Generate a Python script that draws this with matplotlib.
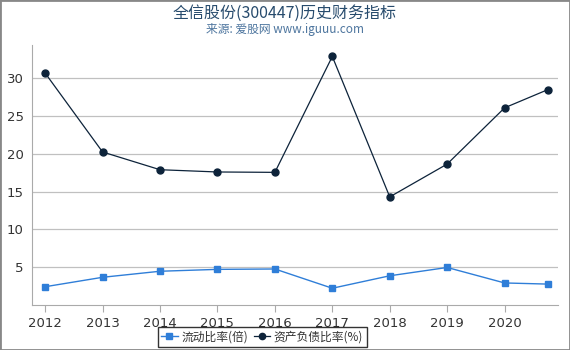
import matplotlib
matplotlib.use("Agg")
from matplotlib import pyplot as plt

plt.rcParams['font.family'] = ['DejaVu Sans', 'Noto Sans CJK SC']

years = [2012, 2013, 2014, 2015, 2016, 2017, 2018, 2019, 2020, 2020.75]
xticks = [2012, 2013, 2014, 2015, 2016, 2017, 2018, 2019, 2020]
current_ratio = [2.4, 3.65, 4.45, 4.7, 4.75, 2.2, 3.85, 4.95, 2.9, 2.75]
debt_ratio = [30.7, 20.25, 17.9, 17.6, 17.55, 32.9, 14.3, 18.65, 26.1, 28.5]

fig = plt.figure(figsize=(5.7, 3.5), dpi=100)
ax = fig.add_axes([0.056, 0.129, 0.923, 0.742])

ax.plot(years, current_ratio, color='#2f7ed8', lw=1, marker='s', ms=5,
        label='流动比率(倍)', zorder=3)
ax.plot(years, debt_ratio, color='#0d233a', lw=0.9, marker='o', ms=5,
        label='资产负债比率(%)', zorder=3)

ax.set_xlim(2011.77, 2020.93)
ax.set_ylim(0, 34.4)
ax.set_xticks(xticks)
ax.set_xticklabels([str(x) for x in xticks])
ax.set_yticks([5, 10, 15, 20, 25, 30])
ax.grid(axis='y', color='#c0c0c0', lw=0.9)
ax.set_axisbelow(True)
for s in ['top', 'right']:
    ax.spines[s].set_visible(False)
for s in ['left', 'bottom']:
    ax.spines[s].set_color('#aaaaaa')
ax.tick_params(axis='y', length=0, labelsize=9.5, labelcolor='#333333', pad=6)
ax.tick_params(axis='x', length=5, color='#aaaaaa', labelsize=9.5, labelcolor='#333333')

fig.text(0.5, 0.963, '全信股份(300447)历史财务指标', ha='center', va='center',
         fontsize=11.5, color='#274b6d', family=['Noto Sans CJK SC', 'DejaVu Sans'])
fig.text(0.5, 0.915, '来源: 爱股网 www.iguuu.com', ha='center', va='center',
         fontsize=8.5, color='#4d759e', family=['Noto Sans CJK SC', 'DejaVu Sans'])

leg = fig.legend(loc='center', bbox_to_anchor=(0.46, 0.037), ncol=2, frameon=True,
                 handlelength=1.4, handletextpad=0.3, columnspacing=0.5,
                 borderpad=0.3, fancybox=False, markerscale=0.9,
                 prop={'family': ['Noto Sans CJK SC', 'DejaVu Sans'], 'size': 8.5})
leg.get_frame().set_edgecolor('black')
leg.get_frame().set_linewidth(1)
for t in leg.get_texts():
    t.set_color('#333333')

# outer border
fig.patches.append(plt.Rectangle((0, 0), 1, 1, transform=fig.transFigure,
                                 fill=False, edgecolor='#888888', lw=2))

fig.savefig('out.png', dpi=100)
